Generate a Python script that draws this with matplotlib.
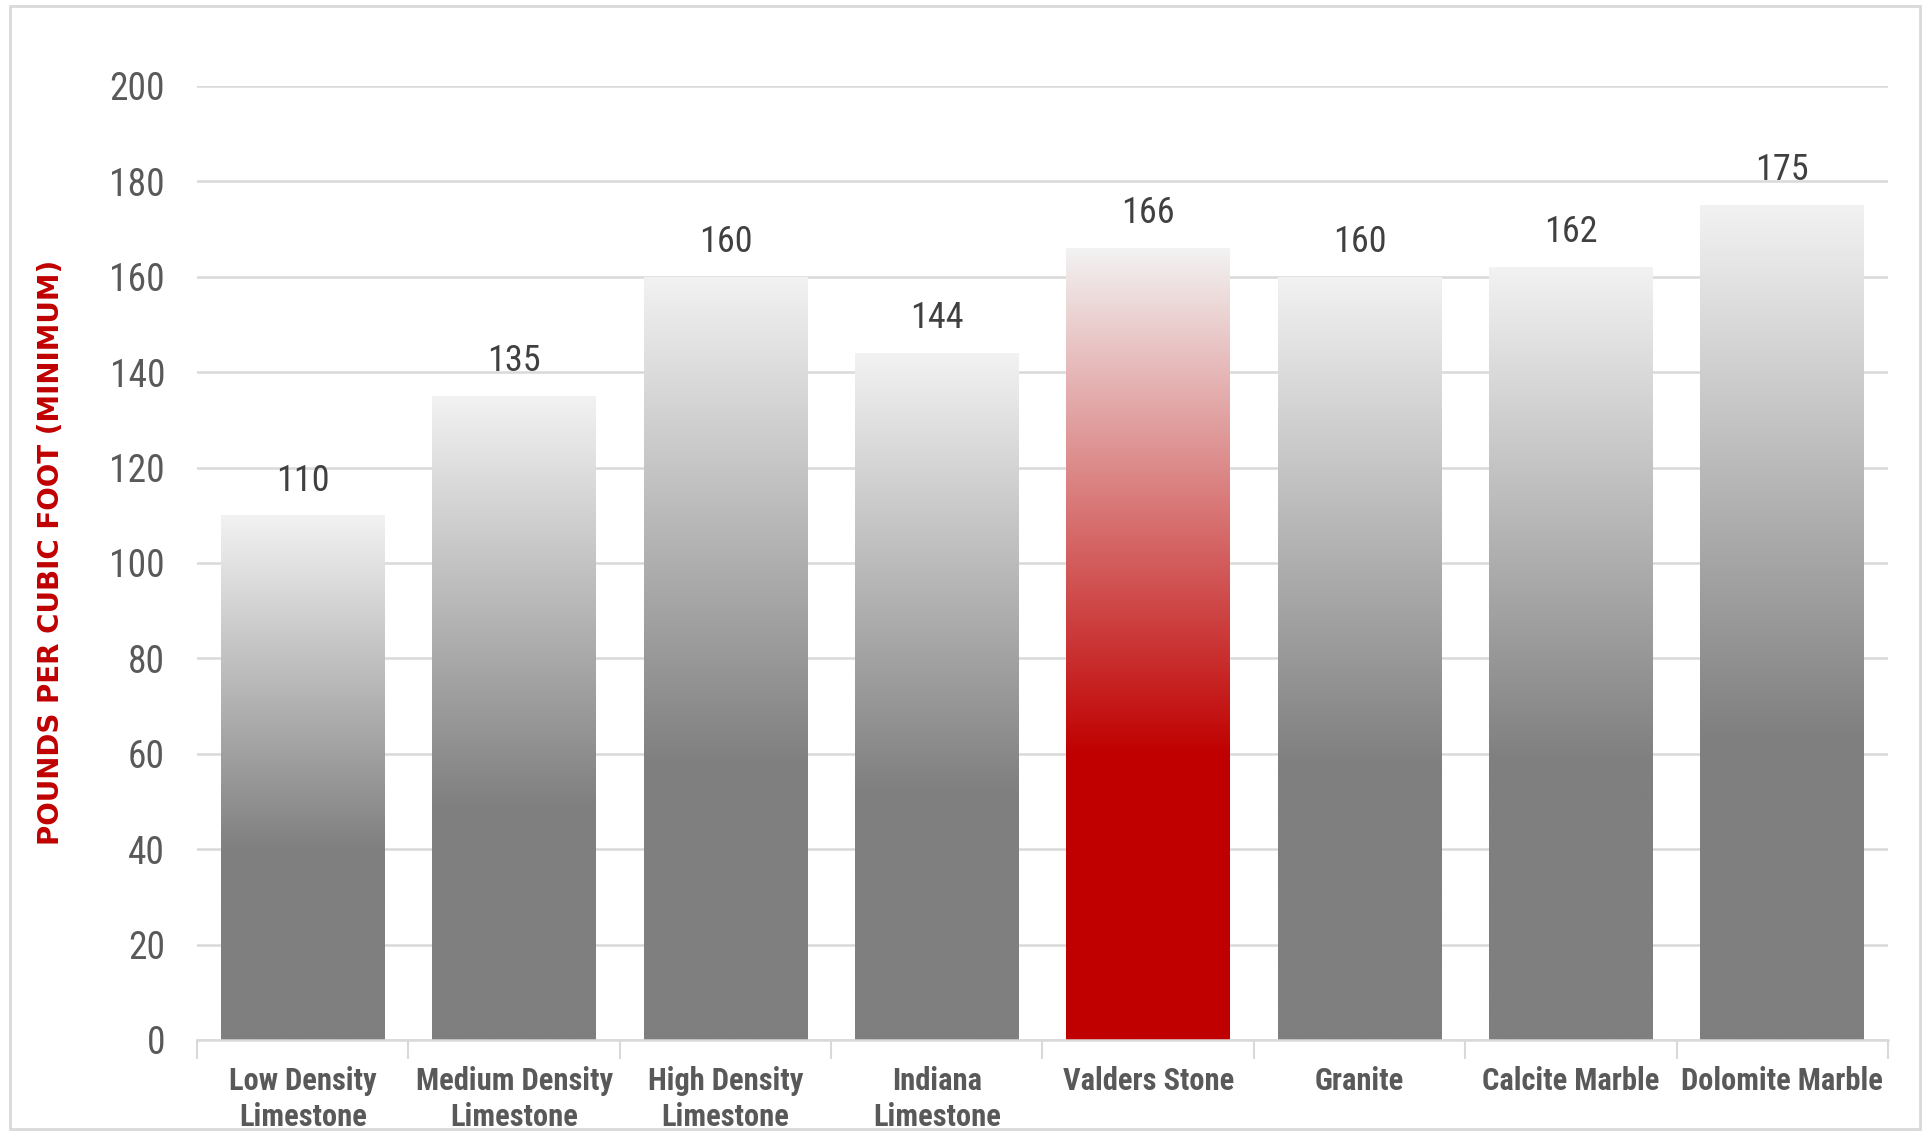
import matplotlib
matplotlib.use("Agg")
import matplotlib.pyplot as plt
import numpy as np
from matplotlib.colors import to_rgb
from matplotlib.patches import Rectangle

# Données du graphique
categories = ["Low Density\nLimestone", "Medium Density\nLimestone", "High Density\nLimestone",
              "Indiana\nLimestone", "Valders Stone", "Granite", "Calcite Marble", "Dolomite Marble"]
values = [110, 135, 160, 144, 166, 160, 162, 175]
highlight = "Valders Stone"
y_ticks = [0, 20, 40, 60, 80, 100, 120, 140, 160, 180, 200]
y_label = "POUNDS PER CUBIC FOOT (MINIMUM)"

narrow = ["Roboto Condensed", "Liberation Sans Narrow", "Liberation Sans", "DejaVu Sans"]

fig = plt.figure(figsize=(19.28, 11.32), dpi=100)
fig.patch.set_facecolor("white")
ax = fig.add_axes([0.1022, 0.0813, 0.877, 0.8428])

x = np.arange(len(categories))
bars = ax.bar(x, values, width=0.774, color="none", edgecolor="none", zorder=2)


def gradient_img(dark, light="#f2f2f2", stop=0.36, n=256):
    # bas = couleur foncée jusqu'à "stop", puis dégradé vers le clair en haut
    t = np.linspace(0, 1, n)
    w = np.clip((t - stop) / (1 - stop), 0, 1)
    d, l = np.array(to_rgb(dark)), np.array(to_rgb(light))
    cols = d[None, :] * (1 - w[:, None]) + l[None, :] * w[:, None]
    return cols[:, None, :]


for bar, cat in zip(bars, categories):
    dark = "#c00000" if cat == highlight else "#7f7f7f"
    x0, w, h = bar.get_x(), bar.get_width(), bar.get_height()
    im = ax.imshow(gradient_img(dark), extent=[x0, x0 + w, 0, h], origin="lower",
                   aspect="auto", zorder=2, interpolation="bilinear")
    im.set_clip_path(bar)
    ax.text(x0 + w / 2, h + 3.5, str(int(h)), ha="center", va="bottom",
            fontsize=26, color="#404040", family=narrow)

ax.set_xlim(-0.5, len(categories) - 0.5)
ax.set_ylim(0, 200)
ax.set_yticks(y_ticks)
ax.set_yticklabels([str(v) for v in y_ticks], fontsize=27, color="#595959", family=narrow)
ax.tick_params(axis="y", length=0, pad=23)

# graduations entre les catégories
ax.set_xticks(np.arange(-0.5, len(categories), 1.0))
ax.set_xticklabels([])
ax.tick_params(axis="x", direction="out", length=14, width=1.5, color="#d9d9d9")
ax.set_xticks(x, minor=True)
ax.set_xticklabels(categories, minor=True, fontsize=22, fontweight="bold",
                   color="#595959", family=narrow, linespacing=1.25)
ax.tick_params(axis="x", which="minor", length=0, pad=19)

ax.grid(axis="y", color="#d9d9d9", linewidth=1.8, zorder=0)
ax.set_axisbelow(True)
for s in ["top", "right", "left"]:
    ax.spines[s].set_visible(False)
ax.spines["bottom"].set_color("#d9d9d9")
ax.spines["bottom"].set_linewidth(1.8)

fig.text(0.0265, 0.512, y_label, rotation=90, ha="center", va="center",
         fontsize=20, fontweight="bold", color="#c00000")

# cadre gris autour du graphique
fig.patches.append(Rectangle((0.005, 0.003), 0.991, 0.992, transform=fig.transFigure,
                             fill=False, edgecolor="#d9d9d9", linewidth=2))

fig.savefig("out.png", dpi=100)
plt.close(fig)
